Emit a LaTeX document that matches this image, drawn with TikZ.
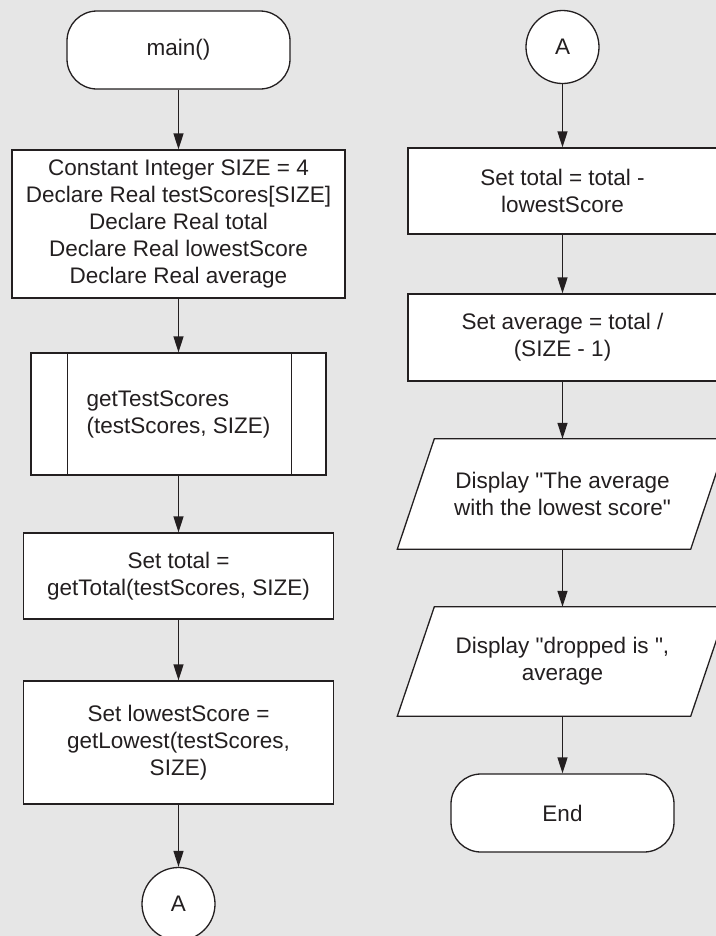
\documentclass[tikz,border=0pt]{standalone}
\usepackage{fontspec}
\setmainfont{Liberation Sans}
\usetikzlibrary{arrows.meta,backgrounds}
\definecolor{bg}{HTML}{E6E6E6}
\definecolor{ink}{HTML}{231F20}
\newcommand{\sq}{\XeTeXglyph\XeTeXcharglyph"22\relax}
\begin{document}
\begin{tikzpicture}[x=1bp,y=-1bp,
  font=\fontsize{22.5bp}{27bp}\selectfont,
  every node/.style={text=ink},
  box/.style={draw=ink, fill=white, line width=1.3bp, rectangle, align=center, inner sep=0pt},
  term/.style={box, rounded corners=30bp, minimum width=223bp, minimum height=78bp},
  conn/.style={box, circle, minimum size=73bp},
  arr/.style={draw=ink, line width=1.3bp, -{Triangle[length=16bp,width=10bp]}},
  para/.style={inner sep=0pt, align=center, minimum width=330bp},
  shapeline/.style={draw=ink, line width=1.3bp}]
\useasboundingbox (0,0) rectangle (716,936);
\begin{scope}[on background layer]
  \fill[bg] (0,0) rectangle (716,936);
\end{scope}
% left column
\node[term] (main) at (178.5,50) {main()};
\node[box, minimum width=333bp, minimum height=148bp] (decl) at (178.5,224)
  {Constant Integer SIZE = 4\\Declare Real testScores[SIZE]\\Declare Real total\\Declare Real lowestScore\\Declare Real average};
\node[box, align=left, inner xsep=55.5bp, minimum height=122bp] (gts) at (178.5,414)
  {getTestScores\\(testScores, SIZE)};
\draw[shapeline] ([xshift=37bp]gts.north west) -- ([xshift=37bp]gts.south west);
\draw[shapeline] ([xshift=-35bp]gts.north east) -- ([xshift=-35bp]gts.south east);
\node[box, minimum width=310bp, minimum height=86bp] (tot) at (178.5,576)
  {Set total =\\getTotal(testScores, SIZE)};
\node[box, minimum width=310bp, minimum height=123bp] (low) at (178.5,742.5)
  {Set lowestScore =\\getLowest(testScores,\\SIZE)};
\node[conn] (ca) at (178.5,904) {A};
% right column
\node[conn] (cb) at (562.5,47) {A};
\node[box, minimum width=309bp, minimum height=86bp] (sub) at (562.5,191)
  {Set total = total -\\lowestScore};
\node[box, minimum width=309bp, minimum height=87bp] (avg) at (562.5,337.5)
  {Set average = total /\\(SIZE - 1)};
\node[para, minimum height=110bp] (d1) at (562.5,494)
  {Display \sq The average\\with the lowest score\sq};
\node[para, minimum height=109bp] (d2) at (562.5,661.5)
  {Display \sq dropped is \sq,\\average};
\node[term] (end) at (562.5,813) {End};
\begin{scope}[on background layer]
  \draw[shapeline, fill=white] ([xshift=37bp]d1.north west) -- (d1.north east)
    -- ([xshift=-37bp]d1.south east) -- (d1.south west) -- cycle;
  \draw[shapeline, fill=white] ([xshift=37bp]d2.north west) -- (d2.north east)
    -- ([xshift=-37bp]d2.south east) -- (d2.south west) -- cycle;
\end{scope}
% connectors
\draw[arr] (main) -- (decl);
\draw[arr] (decl) -- (gts);
\draw[arr] (gts) -- (tot);
\draw[arr] (tot) -- (low);
\draw[arr] (low) -- (ca);
\draw[arr] (cb) -- (sub);
\draw[arr] (sub) -- (avg);
\draw[arr] (avg) -- (d1);
\draw[arr] (d1) -- (d2);
\draw[arr] (d2) -- (end);
\end{tikzpicture}
\end{document}
